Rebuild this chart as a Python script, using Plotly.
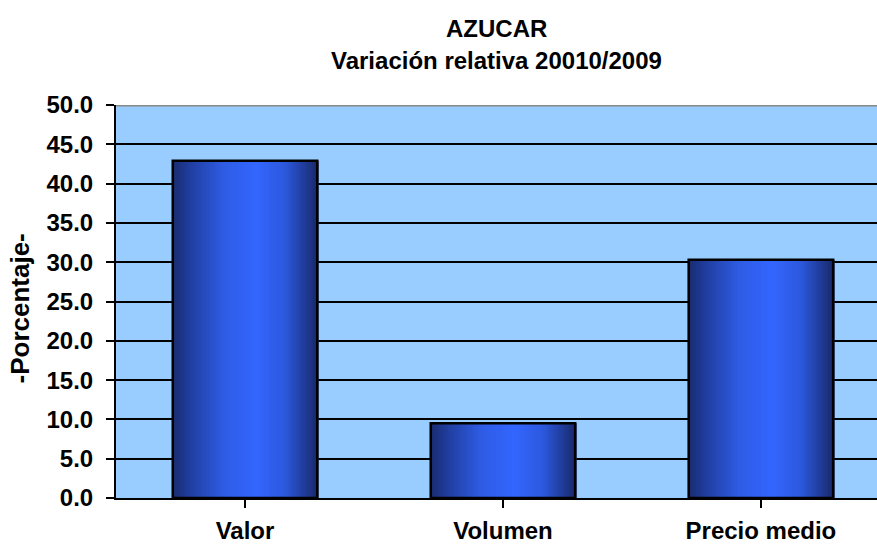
import plotly.graph_objects as go

categories = ["Valor", "Volumen", "Precio medio"]
values = [42.9, 9.5, 30.3]
y_ticks = [0, 5, 10, 15, 20, 25, 30, 35, 40, 45, 50]
title_line1 = "AZUCAR"
title_line2 = "Variación relativa 20010/2009"
y_title = "-Porcentaje-"

FONT = "Liberation Sans, Arial, sans-serif"
bar_w = 0.56
n_strips = 60

# gradient stops (position across bar, rgb)
stops = [(0.0, (26, 44, 112)), (0.12, (33, 62, 160)), (0.35, (46, 92, 228)),
         (0.58, (51, 102, 255)), (0.78, (44, 88, 220)), (0.92, (32, 58, 150)), (1.0, (25, 42, 105))]

def interp(t):
    for (p0, c0), (p1, c1) in zip(stops[:-1], stops[1:]):
        if p0 <= t <= p1:
            f = (t - p0) / (p1 - p0) if p1 > p0 else 0
            return "rgb(%d,%d,%d)" % tuple(round(a + (b - a) * f) for a, b in zip(c0, c1))
    return "rgb(%d,%d,%d)" % stops[-1][1]

fig = go.Figure()
sw = bar_w / n_strips
for i in range(n_strips):
    t = (i + 0.5) / n_strips
    fig.add_trace(go.Bar(
        x=[0, 1, 2], y=values, width=sw * 1.6, offset=-bar_w / 2 + i * sw,
        marker=dict(color=interp(t), line=dict(width=0)),
        showlegend=False, hoverinfo="skip"))
# outline
fig.add_trace(go.Bar(
    x=[0, 1, 2], y=values, width=bar_w,
    marker=dict(color="rgba(0,0,0,0)", line=dict(color="black", width=2.5)),
    showlegend=False))

fig.update_layout(
    width=877, height=546,
    margin=dict(l=116, r=0, t=105, b=48),
    paper_bgcolor="white", plot_bgcolor="#99ccff",
    barmode="overlay", bargap=0.44,
    font=dict(family=FONT, color="black"),
    xaxis=dict(
        range=[-0.5, 2.45], tickmode="array", tickvals=[0, 1, 2], ticktext=categories,
        showgrid=False, showline=True, linecolor="black", linewidth=2,
        ticks="outside", tickson="boundaries", ticklen=8, tickwidth=2, tickcolor="black",
        tickfont=dict(size=24, family=FONT, weight="bold"), ticklabelstandoff=2,
        zeroline=False, fixedrange=True, automargin=False),
    yaxis=dict(
        range=[0, 50], tickmode="array", tickvals=y_ticks,
        ticktext=["%.1f" % v for v in y_ticks],
        showgrid=True, gridcolor="black", gridwidth=2,
        showline=True, linecolor="black", linewidth=2,
        ticks="outside", ticklen=8, tickwidth=2, tickcolor="black",
        tickfont=dict(size=24, family=FONT, weight="bold"), ticklabelstandoff=8,
        zeroline=False, automargin=False),
    shapes=[dict(type="line", xref="paper", yref="y", x0=0, x1=1, y0=50, y1=50,
                 line=dict(color="#888888", width=3))],
    annotations=[
        dict(text="<b>" + title_line1 + "</b>", xref="paper", yref="paper", x=0.5, y=1,
             yshift=77, showarrow=False, font=dict(size=24, family=FONT), yanchor="middle"),
        dict(text="<b>" + title_line2 + "</b>", xref="paper", yref="paper", x=0.5, y=1,
             yshift=45, showarrow=False, font=dict(size=24, family=FONT), yanchor="middle"),
        dict(text="<b>" + y_title + "</b>", xref="paper", yref="paper", x=0, y=0.5,
             xshift=-97, yshift=-7, textangle=-90, showarrow=False,
             font=dict(size=26, family=FONT), xanchor="center", yanchor="middle"),
    ],
)

# remove the default 8px page margin so the figure fills the window exactly
fig.write_html("out.html", config={"displayModeBar": False},
               post_script="document.body.style.margin='0';document.body.style.overflow='hidden';")
